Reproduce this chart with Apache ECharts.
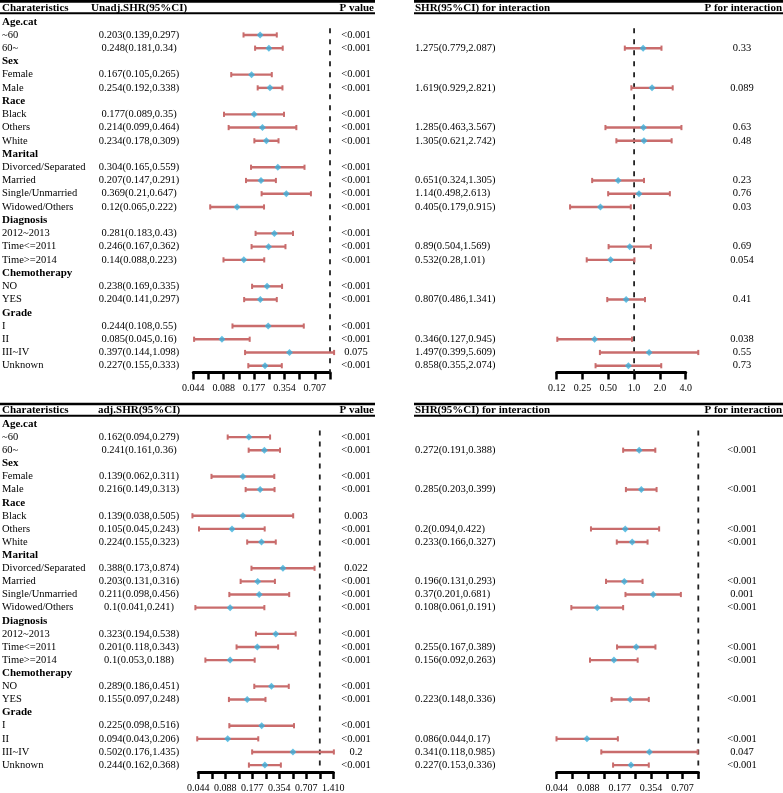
<!DOCTYPE html>
<html>
<head>
<meta charset="utf-8">
<script src="https://cdn.jsdelivr.net/npm/echarts@6/dist/echarts.min.js"></script>
<style>
  html, body { margin: 0; padding: 0; background: #fff; }
  #chart { width: 783px; height: 793px; }
</style>
</head>
<body>
<div id="chart"></div>
<script>
// row labels shared by both tables
const rowLabels = ['Age.cat', '~60', '60~', 'Sex', 'Female', 'Male', 'Race', 'Black', 'Others', 'White',
  'Marital', 'Divorced/Separated', 'Married', 'Single/Unmarried', 'Widowed/Others',
  'Diagnosis', '2012~2013', 'Time<=2011', 'Time>=2014', 'Chemotherapy', 'NO', 'YES',
  'Grade', 'I', 'II', 'III~IV', 'Unknown'];
const groupRows = [0, 3, 6, 10, 15, 19, 22];

// top left: unadjusted SHR
const unadjHR = [null, 0.203, 0.248, null, 0.167, 0.254, null, 0.177, 0.214, 0.234, null, 0.304, 0.207, 0.369, 0.12, null, 0.281, 0.246, 0.14, null, 0.238, 0.204, null, 0.244, 0.085, 0.397, 0.227];
const unadjLow = [null, 0.139, 0.181, null, 0.105, 0.192, null, 0.089, 0.099, 0.178, null, 0.165, 0.147, 0.21, 0.065, null, 0.183, 0.167, 0.088, null, 0.169, 0.141, null, 0.108, 0.045, 0.144, 0.155];
const unadjHigh = [null, 0.297, 0.34, null, 0.265, 0.338, null, 0.35, 0.464, 0.309, null, 0.559, 0.291, 0.647, 0.222, null, 0.43, 0.362, 0.223, null, 0.335, 0.297, null, 0.55, 0.16, 1.098, 0.333];
const unadjP = ['', '<0.001', '<0.001', '', '<0.001', '<0.001', '', '<0.001', '<0.001', '<0.001', '', '<0.001', '<0.001', '<0.001', '<0.001', '', '<0.001', '<0.001', '<0.001', '', '<0.001', '<0.001', '', '<0.001', '<0.001', '0.075', '<0.001'];
const unadjTicks = ['0.044', '0.088', '0.177', '0.354', '0.707'];

// top right: interaction
const int1HR = [null, null, 1.275, null, null, 1.619, null, null, 1.285, 1.305, null, null, 0.651, 1.14, 0.405, null, null, 0.89, 0.532, null, null, 0.807, null, null, 0.346, 1.497, 0.858];
const int1Low = [null, null, 0.779, null, null, 0.929, null, null, 0.463, 0.621, null, null, 0.324, 0.498, 0.179, null, null, 0.504, 0.28, null, null, 0.486, null, null, 0.127, 0.399, 0.355];
const int1High = [null, null, 2.087, null, null, 2.821, null, null, 3.567, 2.742, null, null, 1.305, 2.613, 0.915, null, null, 1.569, 1.01, null, null, 1.341, null, null, 0.945, 5.609, 2.074];
const int1P = ['', '', '0.33', '', '', '0.089', '', '', '0.63', '0.48', '', '', '0.23', '0.76', '0.03', '', '', '0.69', '0.054', '', '', '0.41', '', '', '0.038', '0.55', '0.73'];
const int1Ticks = ['0.12', '0.25', '0.50', '1.0', '2.0', '4.0'];

// bottom left: adjusted SHR
const adjHR = [null, 0.162, 0.241, null, 0.139, 0.216, null, 0.139, 0.105, 0.224, null, 0.388, 0.203, 0.211, 0.1, null, 0.323, 0.201, 0.1, null, 0.289, 0.155, null, 0.225, 0.094, 0.502, 0.244];
const adjLow = [null, 0.094, 0.161, null, 0.062, 0.149, null, 0.038, 0.045, 0.155, null, 0.173, 0.131, 0.098, 0.041, null, 0.194, 0.118, 0.053, null, 0.186, 0.097, null, 0.098, 0.043, 0.176, 0.162];
const adjHigh = [null, 0.279, 0.36, null, 0.311, 0.313, null, 0.505, 0.243, 0.323, null, 0.874, 0.316, 0.456, 0.241, null, 0.538, 0.343, 0.188, null, 0.451, 0.248, null, 0.516, 0.206, 1.435, 0.368];
const adjP = ['', '<0.001', '<0.001', '', '<0.001', '<0.001', '', '0.003', '<0.001', '<0.001', '', '0.022', '<0.001', '<0.001', '<0.001', '', '<0.001', '<0.001', '<0.001', '', '<0.001', '<0.001', '', '<0.001', '<0.001', '0.2', '<0.001'];
const adjTicks = ['0.044', '0.088', '0.177', '0.354', '0.707', '1.410'];

// bottom right: interaction
const int2HR = [null, null, 0.272, null, null, 0.285, null, null, 0.2, 0.233, null, null, 0.196, 0.37, 0.108, null, null, 0.255, 0.156, null, null, 0.223, null, null, 0.086, 0.341, 0.227];
const int2Low = [null, null, 0.191, null, null, 0.203, null, null, 0.094, 0.166, null, null, 0.131, 0.201, 0.061, null, null, 0.167, 0.092, null, null, 0.148, null, null, 0.044, 0.118, 0.153];
const int2High = [null, null, 0.388, null, null, 0.399, null, null, 0.422, 0.327, null, null, 0.293, 0.681, 0.191, null, null, 0.389, 0.263, null, null, 0.336, null, null, 0.17, 0.985, 0.336];
const int2P = ['', '', '<0.001', '', '', '<0.001', '', '', '<0.001', '<0.001', '', '', '<0.001', '0.001', '<0.001', '', '', '<0.001', '<0.001', '', '', '<0.001', '', '', '<0.001', '0.047', '<0.001'];
const int2Ticks = ['0.044', '0.088', '0.177', '0.354', '0.707'];

const FONT = '"Liberation Serif", "Times New Roman", serif';
const barColor = '#c96c6c';
const dotColor = '#3bb0dc';
const yMin = -0.5, yMax = 26.52;

const panels = [
  { grid: { left: 193.3, width: 136.7, top: 15.1, height: 357.5 }, min: -4.5, max: 0, interval: 0.5, ticks: unadjTicks, hr: unadjHR, lo: unadjLow, hi: unadjHigh },
  { grid: { left: 556.7, width: 129, top: 15.1, height: 357.5 }, min: -3, max: 2, interval: 1, ticks: int1Ticks, hr: int1HR, lo: int1Low, hi: int1High },
  { grid: { left: 198.3, width: 135, top: 417.4, height: 354.5 }, min: -4.5, max: 0.5, interval: 0.5, ticks: adjTicks, hr: adjHR, lo: adjLow, hi: adjHigh },
  { grid: { left: 556.7, width: 141.6, top: 417.4, height: 354.5 }, min: -4.5, max: 0, interval: 0.5, ticks: int2Ticks, hr: int2HR, lo: int2Low, hi: int2High }
];

function fmtCI(h, l, u) {
  return h == null ? '' : h + '(' + l + ',' + u + ')';
}

function txt(x, y, s, align, bold) {
  return {
    type: 'text', x: x, y: y,
    style: { text: s, fill: '#000', align: align, verticalAlign: 'middle',
      fontFamily: FONT, fontSize: bold ? 11 : 10.5, fontWeight: bold ? 'bold' : 'normal' }
  };
}

const series = [];
panels.forEach((p, gi) => {
  const ci = [], pts = [];
  p.hr.forEach((h, i) => {
    if (h == null) return;
    ci.push([Math.log2(p.lo[i]), Math.log2(p.hi[i]), i]);
    pts.push([Math.log2(h), i]);
  });
  // reference line at 1
  series.push({
    type: 'line', xAxisIndex: gi, yAxisIndex: gi, data: [[0, 0.5], [0, yMax]],
    symbol: 'none', silent: true, z: 1,
    lineStyle: { color: '#222', width: 1.8, type: [5, 6] }
  });
  series.push({
    type: 'custom', xAxisIndex: gi, yAxisIndex: gi, data: ci, silent: true, z: 2,
    encode: { x: [0, 1], y: 2 },
    renderItem: (params, api) => {
      const a = api.coord([api.value(0), api.value(2)]);
      const b = api.coord([api.value(1), api.value(2)]);
      const st = { stroke: barColor, lineWidth: 2.4 };
      return {
        type: 'group', children: [
          { type: 'line', shape: { x1: a[0], y1: a[1], x2: b[0], y2: b[1] }, style: st },
          { type: 'line', shape: { x1: a[0], y1: a[1] - 2.6, x2: a[0], y2: a[1] + 2.6 }, style: { stroke: barColor, lineWidth: 2 } },
          { type: 'line', shape: { x1: b[0], y1: b[1] - 2.6, x2: b[0], y2: b[1] + 2.6 }, style: { stroke: barColor, lineWidth: 2 } }
        ]
      };
    }
  });
  series.push({
    type: 'scatter', xAxisIndex: gi, yAxisIndex: gi, data: pts, silent: true, z: 3,
    symbol: 'diamond', symbolSize: 7, itemStyle: { color: dotColor }
  });
});

// table text, placed on the same row scale as the marks
function leftTable(gi, hr, lo, hi, pv) {
  return {
    type: 'custom', xAxisIndex: gi, yAxisIndex: gi, silent: true,
    data: rowLabels.map((_, i) => [panels[gi].min, i]),
    encode: { x: 0, y: 1 },
    renderItem: (params, api) => {
      const i = api.value(1);
      const y = api.coord([panels[gi].min, i])[1];
      const bold = groupRows.indexOf(i) >= 0;
      return {
        type: 'group', children: [
          txt(2, y, rowLabels[i], 'left', bold),
          txt(139, y, fmtCI(hr[i], lo[i], hi[i]), 'center', false),
          txt(356, y, pv[i], 'center', false)
        ]
      };
    }
  };
}
function rightTable(gi, hr, lo, hi, pv) {
  return {
    type: 'custom', xAxisIndex: gi, yAxisIndex: gi, silent: true,
    data: rowLabels.map((_, i) => [panels[gi].min, i]),
    encode: { x: 0, y: 1 },
    renderItem: (params, api) => {
      const i = api.value(1);
      const y = api.coord([panels[gi].min, i])[1];
      return {
        type: 'group', children: [
          txt(415, y, fmtCI(hr[i], lo[i], hi[i]), 'left', false),
          txt(742, y, pv[i], 'center', false)
        ]
      };
    }
  };
}
series.push(leftTable(0, unadjHR, unadjLow, unadjHigh, unadjP));
series.push(rightTable(1, int1HR, int1Low, int1High, int1P));
series.push(leftTable(2, adjHR, adjLow, adjHigh, adjP));
series.push(rightTable(3, int2HR, int2Low, int2High, int2P));

// header rules and titles
function headerBlock(top, midLabel) {
  const ln = (x1, x2, y, w) => ({ type: 'line', shape: { x1: x1, y1: y, x2: x2, y2: y }, style: { stroke: '#000', lineWidth: w } });
  return [
    ln(0, 375, top, 2.6), ln(0, 375, top + 11.8, 2),
    ln(414, 783, top, 2.6), ln(414, 783, top + 11.8, 2),
    txt(2, top + 6.3, 'Charateristics', 'left', true),
    txt(midLabel[1], top + 6.3, midLabel[0], 'left', true),
    txt(374, top + 6.3, 'P value', 'right', true),
    txt(415, top + 6.3, 'SHR(95%CI) for interaction', 'left', true),
    txt(782, top + 6.3, 'P for interaction', 'right', true)
  ];
}

const chart = echarts.init(document.getElementById('chart'));
chart.setOption({
  animation: false,
  backgroundColor: '#fff',
  grid: panels.map(p => Object.assign({ containLabel: false, outerBoundsMode: 'none' }, p.grid)),
  xAxis: panels.map((p, gi) => ({
    type: 'value', gridIndex: gi, min: p.min, max: p.max, interval: p.interval,
    splitLine: { show: false },
    axisLine: { onZero: false, lineStyle: { color: '#000', width: 3 } },
    axisTick: { length: 7, lineStyle: { color: '#000', width: 2.5 } },
    axisLabel: {
      margin: 11, color: '#000', fontFamily: FONT, fontSize: 10,
      formatter: v => {
        const k = (v - p.min);
        const r = Math.round(k);
        return Math.abs(k - r) < 1e-6 ? (p.ticks[r] || '') : '';
      }
    }
  })),
  yAxis: panels.map((p, gi) => ({
    type: 'value', gridIndex: gi, inverse: true, min: yMin, max: yMax, show: false
  })),
  graphic: [].concat(headerBlock(1.4, ['Unadj.SHR(95%CI)', 91]), headerBlock(404, ['adj.SHR(95%CI)', 98])),
  series: series
});
</script>
</body>
</html>
